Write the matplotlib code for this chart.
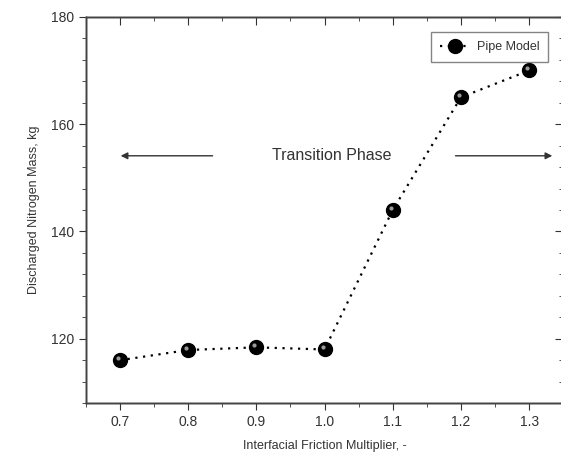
import matplotlib
matplotlib.use('Agg')
import matplotlib.pyplot as plt
from matplotlib.ticker import MultipleLocator
from matplotlib.transforms import offset_copy

plt.rcParams['font.family'] = ['Liberation Sans', 'DejaVu Sans']

multiplier = [0.7, 0.8, 0.9, 1.0, 1.1, 1.2, 1.3]
mass = [116.0, 117.9, 118.4, 118.0, 144.0, 165.0, 170.0]

fig = plt.figure(figsize=(5.61, 4.55), dpi=100)
ax = fig.add_axes([0.153, 0.114, 0.851, 0.849])

ax.plot(multiplier, mass, color='black', linestyle=(0, (1, 2.5)), linewidth=1.6,
        marker='o', markersize=10, markerfacecolor='black', markeredgecolor='black',
        label='Pipe Model')
# little highlight to give the spheres a shiny look
hl = offset_copy(ax.transData, fig=fig, x=-2, y=2, units='dots')
ax.plot(multiplier, mass, linestyle='none', marker='o', markersize=3,
        markerfacecolor='#9a9a9a', markeredgecolor='none', transform=hl)

ax.set_xlim(0.65, 1.35)
ax.set_ylim(108, 180)
ax.xaxis.set_major_locator(MultipleLocator(0.1))
ax.xaxis.set_minor_locator(MultipleLocator(0.05))
ax.yaxis.set_major_locator(MultipleLocator(20))
ax.yaxis.set_minor_locator(MultipleLocator(4))
ax.tick_params(which='both', colors='#333333', labelsize=10, direction='out')
ax.tick_params(which='major', length=5)
ax.tick_params(which='minor', length=3)
# mirrored ticks on top and right point inward
axt = ax.twiny()
axt.set_xlim(ax.get_xlim())
axt.xaxis.set_major_locator(MultipleLocator(0.1))
axt.xaxis.set_minor_locator(MultipleLocator(0.05))
axt.tick_params(which='both', direction='in', colors='#333333', labeltop=False)
axt.tick_params(which='major', length=6)
axt.tick_params(which='minor', length=3)
axr = ax.twinx()
axr.set_ylim(ax.get_ylim())
axr.yaxis.set_major_locator(MultipleLocator(20))
axr.yaxis.set_minor_locator(MultipleLocator(4))
axr.tick_params(which='both', direction='in', colors='#333333', labelright=False)
axr.tick_params(which='major', length=6)
axr.tick_params(which='minor', length=3)
for a in (ax, axt, axr):
    for s in a.spines.values():
        s.set_color('#444444')
        s.set_linewidth(1.0)
ax.xaxis.set_major_formatter(plt.FormatStrFormatter('%.1f'))

ax.set_xlabel('Interfacial Friction Multiplier, -', fontsize=9, color='#333333', labelpad=8)
ax.set_ylabel('Discharged Nitrogen Mass, kg', fontsize=9, color='#333333', labelpad=8)

ax.annotate('', xy=(0.697, 154.1), xytext=(0.84, 154.1),
            arrowprops=dict(arrowstyle='-|>', color='#333333', lw=1.0, mutation_scale=10))
ax.annotate('', xy=(1.338, 154.1), xytext=(1.188, 154.1),
            arrowprops=dict(arrowstyle='-|>', color='#333333', lw=1.0, mutation_scale=10))
ax.text(1.01, 154.1, 'Transition Phase', fontsize=11.5, color='#333333',
        ha='center', va='center')

leg = axr.legend(*ax.get_legend_handles_labels(), loc='upper right', fontsize=9,
                 fancybox=False, frameon=True, handlelength=2.4, borderpad=0.7,
                 handletextpad=0.6, borderaxespad=0, bbox_to_anchor=(0.969, 0.96))
leg.get_frame().set_edgecolor('#666666')
leg.get_frame().set_linewidth(1.0)
for t in leg.get_texts():
    t.set_color('#333333')

fig.savefig('out.png', dpi=100)
